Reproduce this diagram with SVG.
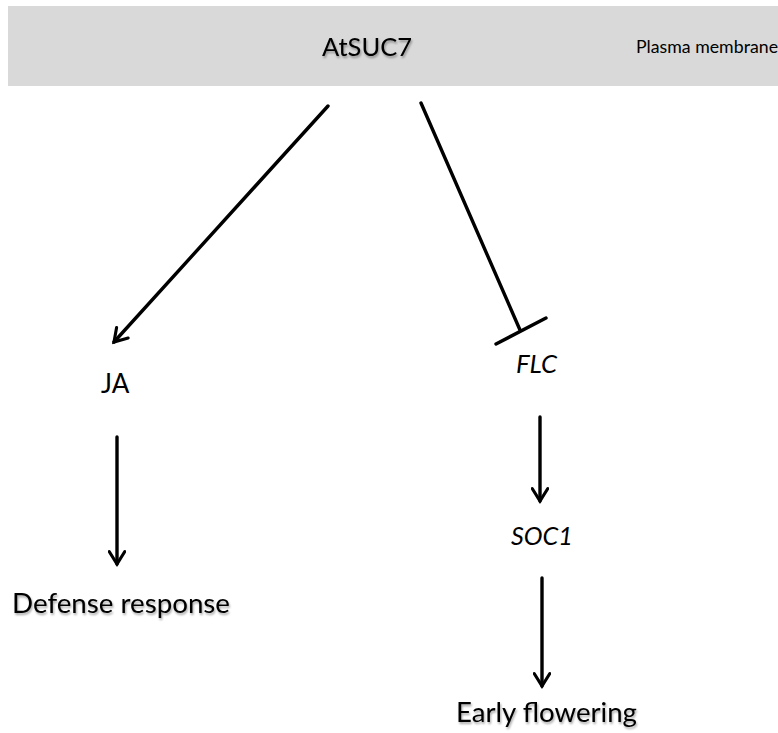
<svg xmlns="http://www.w3.org/2000/svg" width="778" height="733" viewBox="0 0 778 733">
  <style>
    .lbl { font-family: Lato, "Open Sans", "Liberation Sans", sans-serif; fill: #000; }
    .it { font-style: italic; }
    .shadow { filter: url(#soft); }
    .edge { stroke: #000; stroke-width: 3.4; fill: none; stroke-linecap: round; }
  </style>
  <defs>
    <filter id="soft" x="-10%" y="-30%" width="120%" height="160%">
      <feDropShadow dx="1" dy="2" stdDeviation="1.2" flood-color="#000" flood-opacity="0.35"/>
    </filter>
    <marker id="vhead" viewBox="0 0 12 12" refX="10" refY="6" markerWidth="5.5" markerHeight="5.5" orient="auto" markerUnits="strokeWidth">
      <polyline points="2,1 10,6 2,11" fill="none" stroke="#000" stroke-width="2" stroke-linecap="round" stroke-linejoin="miter"/>
    </marker>
  </defs>

  <rect width="778" height="733" fill="#ffffff"/>

  <!-- membrane band with the transporter -->
  <g id="membrane">
    <rect x="8" y="6" width="770" height="80" fill="#d9d9d9"/>
    <text class="lbl" x="636" y="53" font-size="16.5" textLength="142" lengthAdjust="spacingAndGlyphs">Plasma membrane</text>
  </g>
  <g id="atsuc7">
    <text class="lbl shadow" x="322" y="56" font-size="25" textLength="90" lengthAdjust="spacingAndGlyphs">AtSUC7</text>
  </g>

  <g id="ja">
    <text class="lbl" x="101" y="393" font-size="26">JA</text>
  </g>
  <g id="defense">
    <text class="lbl shadow" x="12" y="613" font-size="26" textLength="218" lengthAdjust="spacingAndGlyphs">Defense response</text>
  </g>
  <g id="flc">
    <text class="lbl it" x="516" y="373" font-size="25" textLength="41" lengthAdjust="spacingAndGlyphs">FLC</text>
  </g>
  <g id="soc1">
    <text class="lbl it" x="511" y="545" font-size="25" textLength="62" lengthAdjust="spacingAndGlyphs">SOC1</text>
  </g>
  <g id="flowering">
    <text class="lbl shadow" x="456" y="722" font-size="26" textLength="181" lengthAdjust="spacingAndGlyphs">Early flowering</text>
  </g>

  <g id="connectors">
    <!-- AtSUC7 activates JA -->
    <line class="edge" x1="328" y1="106" x2="114" y2="342" marker-end="url(#vhead)"/>
    <!-- AtSUC7 represses FLC -->
    <line class="edge" x1="421" y1="103" x2="520" y2="330"/>
    <line class="edge" x1="496" y1="344" x2="546" y2="318"/>
    <!-- JA to defense -->
    <line class="edge" x1="117" y1="437" x2="117" y2="564" marker-end="url(#vhead)"/>
    <!-- FLC to SOC1 -->
    <line class="edge" x1="540" y1="417" x2="540" y2="501" marker-end="url(#vhead)"/>
    <!-- SOC1 to flowering -->
    <line class="edge" x1="542" y1="578" x2="542" y2="686" marker-end="url(#vhead)"/>
  </g>
</svg>
